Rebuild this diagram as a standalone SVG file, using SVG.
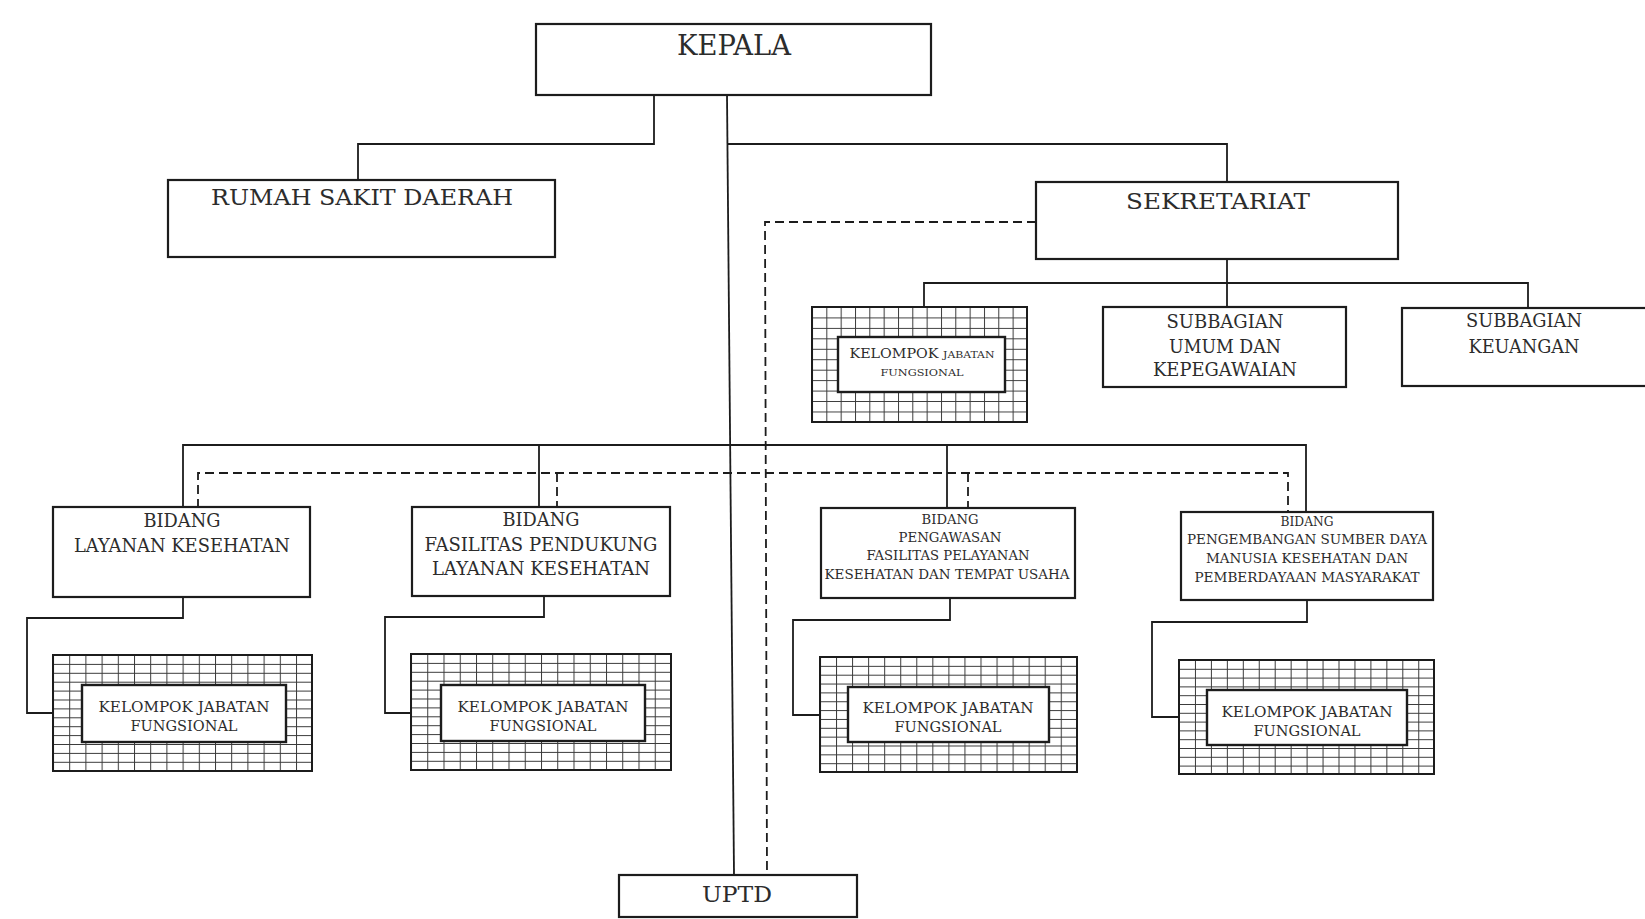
<svg xmlns="http://www.w3.org/2000/svg" width="1645" height="919" viewBox="0 0 1645 919">
<style>
.box{fill:#fff;stroke:#1c1c1c;stroke-width:2.2}
.inner{fill:#fff;stroke:#1c1c1c;stroke-width:2.4}
.con{fill:none;stroke:#1c1c1c;stroke-width:1.8}
.dash{fill:none;stroke:#1c1c1c;stroke-width:1.8;stroke-dasharray:9 5}
.grid{fill:none;stroke:#3a3a3a;stroke-width:1}
text{font-family:"DejaVu Serif","Liberation Serif",serif;fill:#2c2c2c;text-anchor:middle}
.t1{font-size:27px}
.t2{font-size:23px}
.t3{font-size:18px}
.t4{font-size:13px}
.t5{font-size:15px}
</style>
<defs>
<pattern id="gA" patternUnits="userSpaceOnUse" x="53" y="655" width="16.2" height="8.9"><path class="grid" d="M0.5 0V8.9M0 0.5H16.2"/></pattern>
<pattern id="gB" patternUnits="userSpaceOnUse" x="411" y="654" width="16.25" height="8.9"><path class="grid" d="M0.5 0V8.9M0 0.5H16.25"/></pattern>
<pattern id="gC" patternUnits="userSpaceOnUse" x="820" y="657" width="16.05" height="8.85"><path class="grid" d="M0.5 0V8.85M0 0.5H16.05"/></pattern>
<pattern id="gD" patternUnits="userSpaceOnUse" x="1179" y="660" width="15.95" height="8.8"><path class="grid" d="M0.5 0V8.8M0 0.5H15.95"/></pattern>
<pattern id="gE" patternUnits="userSpaceOnUse" x="812" y="307" width="14.33" height="10.45"><path class="grid" d="M0.5 0V10.45M0 0.5H14.33"/></pattern>
</defs>
<rect width="1645" height="919" fill="#fff"/>

<g id="connectors">
  <polyline class="con" points="654,95 654,144 358,144 358,180"/>
  <polyline class="con" points="727,95 734,875"/>
  <polyline class="con" points="728,144 1227,144 1227,182"/>
  <polyline class="dash" points="1036,222 765,222 767,875"/>
  <polyline class="con" points="1227,259 1227,283"/>
  <polyline class="con" points="924,307 924,283 1528,283 1528,308"/>
  <polyline class="con" points="1227,283 1227,307"/>
  <polyline class="con" points="183,508 183,445 1306,445 1306,512"/>
  <polyline class="con" points="539,445 539,507"/>
  <polyline class="con" points="947,445 947,508"/>
  <polyline class="dash" points="198,508 198,473 1288,473 1288,512"/>
  <polyline class="dash" points="557,473 557,507"/>
  <polyline class="dash" points="968,473 968,508"/>
  <polyline class="con" points="183,597 183,618 27,618 27,713 53,713"/>
  <polyline class="con" points="544,596 544,617 385,617 385,713 411,713"/>
  <polyline class="con" points="950,598 950,620 793,620 793,715 820,715"/>
  <polyline class="con" points="1307,600 1307,622 1152,622 1152,717 1179,717"/>
</g>

<g id="kepala">
  <rect class="box" x="536" y="24" width="395" height="71"/>
  <text class="t1" x="734" y="55" textLength="114" lengthAdjust="spacingAndGlyphs">KEPALA</text>
</g>
<g id="rumah-sakit">
  <rect class="box" x="168" y="180" width="387" height="77"/>
  <text class="t2" x="362" y="205" textLength="302" lengthAdjust="spacingAndGlyphs">RUMAH SAKIT DAERAH</text>
</g>
<g id="sekretariat">
  <rect class="box" x="1036" y="182" width="362" height="77"/>
  <text class="t2" x="1218" y="209" textLength="184" lengthAdjust="spacingAndGlyphs">SEKRETARIAT</text>
</g>
<g id="kjf-sekretariat">
  <rect x="812" y="307" width="215" height="115" fill="url(#gE)" stroke="#1c1c1c" stroke-width="2"/>
  <rect class="inner" x="838" y="337" width="167" height="55"/>
  <text x="922" y="358" textLength="145" lengthAdjust="spacingAndGlyphs"><tspan font-size="12.5">KELOMPOK </tspan><tspan font-size="9.5">JABATAN</tspan></text>
  <text x="922" y="376" font-size="10" fill="#777" textLength="83" lengthAdjust="spacingAndGlyphs">FUNGSIONAL</text>
</g>
<g id="subbag-umum">
  <rect class="box" x="1103" y="307" width="243" height="80"/>
  <text class="t3" x="1225" y="328" textLength="117" lengthAdjust="spacingAndGlyphs">SUBBAGIAN</text>
  <text class="t3" x="1225" y="353" textLength="112" lengthAdjust="spacingAndGlyphs">UMUM DAN</text>
  <text class="t3" x="1225" y="376" textLength="144" lengthAdjust="spacingAndGlyphs">KEPEGAWAIAN</text>
</g>
<g id="subbag-keuangan">
  <rect class="box" x="1402" y="308" width="246" height="78"/>
  <text class="t3" x="1524" y="327" textLength="116" lengthAdjust="spacingAndGlyphs">SUBBAGIAN</text>
  <text class="t3" x="1524" y="353" textLength="111" lengthAdjust="spacingAndGlyphs">KEUANGAN</text>
</g>

<g id="bidang-layanan">
  <rect class="box" x="53" y="507" width="257" height="90"/>
  <text class="t3" x="182" y="527" textLength="77" lengthAdjust="spacingAndGlyphs">BIDANG</text>
  <text class="t3" x="182" y="552" textLength="216" lengthAdjust="spacingAndGlyphs">LAYANAN KESEHATAN</text>
</g>
<g id="kjf-1">
  <rect x="53" y="655" width="259" height="116" fill="url(#gA)" stroke="#1c1c1c" stroke-width="2"/>
  <rect class="inner" x="82" y="685" width="204" height="57"/>
  <text class="t5" x="184" y="712" textLength="171" lengthAdjust="spacingAndGlyphs">KELOMPOK JABATAN</text>
  <text class="t5" x="184" y="731" textLength="107" lengthAdjust="spacingAndGlyphs">FUNGSIONAL</text>
</g>

<g id="bidang-fasilitas">
  <rect class="box" x="412" y="507" width="258" height="89"/>
  <text class="t3" x="541" y="526" textLength="77" lengthAdjust="spacingAndGlyphs">BIDANG</text>
  <text class="t3" x="541" y="551" textLength="233" lengthAdjust="spacingAndGlyphs">FASILITAS PENDUKUNG</text>
  <text class="t3" x="541" y="575" textLength="218" lengthAdjust="spacingAndGlyphs">LAYANAN KESEHATAN</text>
</g>
<g id="kjf-2">
  <rect x="411" y="654" width="260" height="116" fill="url(#gB)" stroke="#1c1c1c" stroke-width="2"/>
  <rect class="inner" x="441" y="685" width="204" height="56"/>
  <text class="t5" x="543" y="712" textLength="171" lengthAdjust="spacingAndGlyphs">KELOMPOK JABATAN</text>
  <text class="t5" x="543" y="731" textLength="107" lengthAdjust="spacingAndGlyphs">FUNGSIONAL</text>
</g>

<g id="bidang-pengawasan">
  <rect class="box" x="821" y="508" width="254" height="90"/>
  <text class="t4" x="950" y="524" textLength="57" lengthAdjust="spacingAndGlyphs">BIDANG</text>
  <text class="t4" x="950" y="542" textLength="103" lengthAdjust="spacingAndGlyphs">PENGAWASAN</text>
  <text class="t4" x="948" y="560" textLength="163" lengthAdjust="spacingAndGlyphs">FASILITAS PELAYANAN</text>
  <text class="t4" x="947" y="579" textLength="245" lengthAdjust="spacingAndGlyphs">KESEHATAN DAN TEMPAT USAHA</text>
</g>
<g id="kjf-3">
  <rect x="820" y="657" width="257" height="115" fill="url(#gC)" stroke="#1c1c1c" stroke-width="2"/>
  <rect class="inner" x="848" y="687" width="201" height="55"/>
  <text class="t5" x="948" y="713" textLength="171" lengthAdjust="spacingAndGlyphs">KELOMPOK JABATAN</text>
  <text class="t5" x="948" y="732" textLength="107" lengthAdjust="spacingAndGlyphs">FUNGSIONAL</text>
</g>

<g id="bidang-pengembangan">
  <rect class="box" x="1181" y="512" width="252" height="88"/>
  <text class="t4" x="1307" y="526" textLength="53" lengthAdjust="spacingAndGlyphs">BIDANG</text>
  <text class="t4" x="1307" y="544" textLength="240" lengthAdjust="spacingAndGlyphs">PENGEMBANGAN SUMBER DAYA</text>
  <text class="t4" x="1307" y="563" textLength="202" lengthAdjust="spacingAndGlyphs">MANUSIA KESEHATAN DAN</text>
  <text class="t4" x="1307" y="582" textLength="225" lengthAdjust="spacingAndGlyphs">PEMBERDAYAAN MASYARAKAT</text>
</g>
<g id="kjf-4">
  <rect x="1179" y="660" width="255" height="114" fill="url(#gD)" stroke="#1c1c1c" stroke-width="2"/>
  <rect class="inner" x="1207" y="690" width="200" height="55"/>
  <text class="t5" x="1307" y="717" textLength="171" lengthAdjust="spacingAndGlyphs">KELOMPOK JABATAN</text>
  <text class="t5" x="1307" y="736" textLength="107" lengthAdjust="spacingAndGlyphs">FUNGSIONAL</text>
</g>

<g id="uptd">
  <rect class="box" x="619" y="875" width="238" height="42"/>
  <text class="t2" x="737" y="902" font-size="24" textLength="70" lengthAdjust="spacingAndGlyphs">UPTD</text>
</g>
</svg>
